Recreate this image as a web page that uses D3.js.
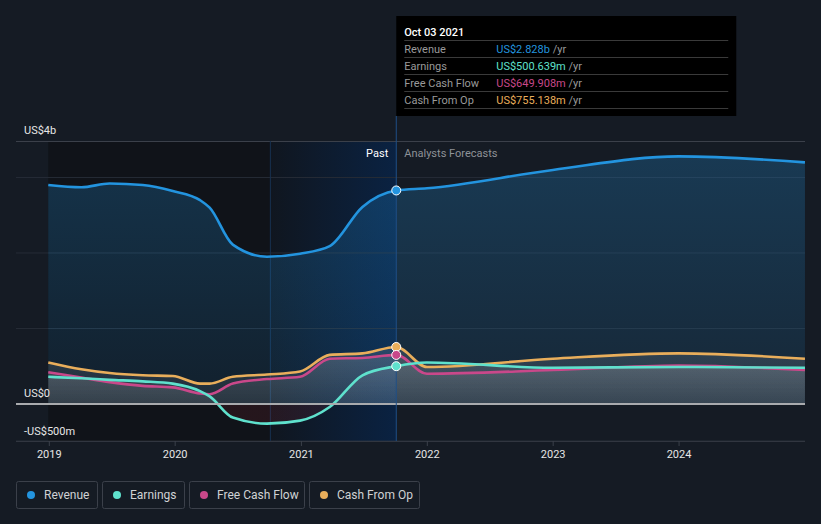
<!DOCTYPE html>
<html>
<head>
<meta charset="utf-8">
<script src="https://cdn.jsdelivr.net/npm/d3@7"></script>
<style>
  html, body { margin: 0; padding: 0; background: #151b24; }
  svg { display: block; font-family: Roboto, "Noto Sans", sans-serif; }
</style>
</head>
<body>
<svg id="chart" width="821" height="524"></svg>
<script>
// ---- data (values in US$ billions) ----
const dates = ["2018-12-29","2019-04-04","2019-06-25","2019-09-29","2019-12-25","2020-03-13","2020-04-10","2020-06-16","2020-09-23","2020-12-28","2021-03-24","2021-06-27","2021-10-03","2021-12-31","2022-12-31","2023-12-31","2024-12-31"];
const revenue  = [2.90, 2.87, 2.92, 2.90, 2.82, 2.70, 2.60, 2.11, 1.95, 1.99, 2.09, 2.61, 2.828, 2.857, 3.10, 3.28, 3.20];
const earnings = [0.36, 0.34, 0.32, 0.30, 0.27, 0.17, 0.10, -0.18, -0.26, -0.22, -0.04, 0.38, 0.5006, 0.55, 0.48, 0.49, 0.48];
const fcf      = [0.42, 0.35, 0.29, 0.24, 0.22, 0.14, 0.13, 0.27, 0.33, 0.36, 0.60, 0.61, 0.6499, 0.40, 0.45, 0.51, 0.45];
const cfo      = [0.55, 0.46, 0.41, 0.38, 0.37, 0.27, 0.27, 0.36, 0.39, 0.43, 0.65, 0.67, 0.7551, 0.49, 0.60, 0.67, 0.60];
const seriesNames = ["Revenue", "Earnings", "Free Cash Flow", "Cash From Op"];
const seriesColors = ["#2394df", "#5fe1cd", "#c9488a", "#e9ae5b"];
const xTickYears = [2019, 2020, 2021, 2022, 2023, 2024];
const yTickValues = [-0.5, 0, 1, 2, 3];
const yLabels = [{v: 3.483, t: "US$4b"}, {v: 0, t: "US$0"}, {v: -0.5, t: "-US$500m"}];
const tooltipDate = "Oct 03 2021";
const tooltipValues = ["US$2.828b", "US$500.639m", "US$649.908m", "US$755.138m"];
const pastLabel = "Past", forecastLabel = "Analysts Forecasts";
const nowDate = "2021-10-03", highlightStart = "2020-10-03";

// ---- setup ----
const parse = d3.timeParse("%Y-%m-%d");
const D = dates.map(parse);
const svg = d3.select("#chart");
const pL = 16, pR = 805, pT = 141, pB = 441;

const x = d3.scaleTime().domain([new Date(2019,0,1), new Date(2025,0,1)]).range([49.3, 805.3]);
const y = d3.scaleLinear().domain([-0.5, 3.483]).range([441.75, 141]);

const defs = svg.append("defs");
defs.append("clipPath").attr("id","plotclip").append("rect")
  .attr("x", pL).attr("y", pT).attr("width", pR-pL).attr("height", pB-pT);

// background regions
const xNow = x(parse(nowDate)), xHs = x(parse(highlightStart)), xStart = x(D[0]);
svg.append("rect").attr("x", xStart).attr("y", pT).attr("width", xHs - xStart).attr("height", pB-pT)
  .attr("fill", "#0f1217").attr("opacity", 0.85);
const hg = defs.append("linearGradient").attr("id","hl").attr("x1",0).attr("x2",1).attr("y1",0).attr("y2",0);
hg.append("stop").attr("offset","0%").attr("stop-color","#10161f");
hg.append("stop").attr("offset","100%").attr("stop-color","#0a2242");
svg.append("rect").attr("x", xHs).attr("y", pT).attr("width", xNow - xHs).attr("height", pB-pT)
  .attr("fill", "url(#hl)");

// gridlines
svg.append("g").selectAll("line").data(yTickValues.filter(v => v !== 0 && v !== -0.5)).join("line")
  .attr("x1", pL).attr("x2", pR).attr("y1", d => y(d)).attr("y2", d => y(d))
  .attr("stroke", "#262c36").attr("stroke-width", 1);
svg.append("line").attr("x1", pL).attr("x2", pR).attr("y1", pT+0.5).attr("y2", pT+0.5)
  .attr("stroke", "#3b404a").attr("stroke-width", 1);
svg.append("line").attr("x1", pL).attr("x2", pR).attr("y1", y(-0.5)-0.5).attr("y2", y(-0.5)-0.5)
  .attr("stroke", "#3b404a").attr("stroke-width", 1);

// vertical line at highlight start
svg.append("line").attr("x1", xHs).attr("x2", xHs).attr("y1", pT).attr("y2", pB)
  .attr("stroke", "#17304f").attr("stroke-width", 1);

// ---- areas ----
const plot = svg.append("g").attr("clip-path","url(#plotclip)");
function mkData(vals) { return D.map((d,i) => ({d, v: vals[i]})); }
const area = d3.area().curve(d3.curveMonotoneX).x(p => x(p.d)).y0(y(0)).y1(p => y(p.v));
const line = d3.line().curve(d3.curveMonotoneX).x(p => x(p.d)).y(p => y(p.v));

const rg = defs.append("linearGradient").attr("id","revg").attr("gradientUnits","userSpaceOnUse")
  .attr("x1",0).attr("x2",0).attr("y1", pT).attr("y2", y(0));
rg.append("stop").attr("offset","0%").attr("stop-color","#2394df").attr("stop-opacity",0.26);
rg.append("stop").attr("offset","100%").attr("stop-color","#2394df").attr("stop-opacity",0.10);
plot.append("path").datum(mkData(revenue)).attr("d", area).attr("fill","url(#revg)");

const gg = defs.append("linearGradient").attr("id","greyg").attr("gradientUnits","userSpaceOnUse")
  .attr("x1",0).attr("x2",0).attr("y1", y(0.8)).attr("y2", y(-0.3));
gg.append("stop").attr("offset","0%").attr("stop-color","#ffffff").attr("stop-opacity",0.12);
gg.append("stop").attr("offset","72%").attr("stop-color","#ffffff").attr("stop-opacity",0.05);
gg.append("stop").attr("offset","73%").attr("stop-color","#e0303a").attr("stop-opacity",0.10);
gg.append("stop").attr("offset","100%").attr("stop-color","#e0303a").attr("stop-opacity",0.10);
[cfo, fcf, earnings].forEach(vals => {
  plot.append("path").datum(mkData(vals)).attr("d", area).attr("fill","url(#greyg)");
});

// zero line
svg.append("line").attr("x1", pL).attr("x2", pR).attr("y1", y(0)).attr("y2", y(0))
  .attr("stroke", "#a9abae").attr("stroke-width", 2);

// now line
svg.append("line").attr("x1", xNow).attr("x2", xNow).attr("y1", 116).attr("y2", pB)
  .attr("stroke", "#1f4f86").attr("stroke-width", 1);

// ---- lines ----
const allSeries = [revenue, earnings, fcf, cfo];
[3,2,1,0].forEach(i => {
  plot.append("path").datum(mkData(allSeries[i])).attr("d", line)
    .attr("fill","none").attr("stroke", seriesColors[i]).attr("stroke-width", 2.6);
});

// markers at now
const nowIdx = dates.indexOf(nowDate);
[0,3,2,1].forEach(i => {
  svg.append("circle").attr("cx", x(D[nowIdx])).attr("cy", y(allSeries[i][nowIdx])).attr("r", 4.5)
    .attr("fill", seriesColors[i]).attr("stroke", "#ffffff").attr("stroke-width", 1);
});

// ---- axes ----
const xAxisG = svg.append("g").attr("transform", `translate(0,${pB})`);
const xTicks = xTickYears.map(yr => new Date(yr,0,1));
xAxisG.selectAll("line").data(xTicks).join("line")
  .attr("x1", d => x(d)).attr("x2", d => x(d)).attr("y1", 0).attr("y2", 5)
  .attr("stroke", "#3b404a");
xAxisG.selectAll("text").data(xTicks).join("text")
  .attr("x", d => x(d)).attr("y", 17).attr("text-anchor","middle")
  .attr("fill","#e6e6e6").attr("font-size", 11).text(d => d3.timeFormat("%Y")(d));

svg.append("g").selectAll("text").data(yLabels).join("text")
  .attr("x", 24).attr("y", d => y(d.v) - 7).attr("fill", "#e6e6e6").attr("font-size", 11)
  .text(d => d.t);

// Past / forecast labels
svg.append("text").attr("x", xNow - 8).attr("y", 157).attr("text-anchor","end")
  .attr("fill","#ffffff").attr("font-size", 11).text(pastLabel);
svg.append("text").attr("x", xNow + 8).attr("y", 157)
  .attr("fill","#8e9297").attr("font-size", 11).text(forecastLabel);

// ---- tooltip ----
const tt = svg.append("g").attr("transform", `translate(${xNow},16)`);
tt.append("rect").attr("x",0).attr("y",0).attr("width", 340).attr("height", 100).attr("fill","#000000");
tt.append("text").attr("x", 8).attr("y", 19.5).attr("fill","#ffffff").attr("font-size", 11)
  .attr("font-weight", 500).text(tooltipDate);
seriesNames.forEach((nm, i) => {
  const ry = 24 + i*17;
  tt.append("line").attr("x1", 8).attr("x2", 332).attr("y1", ry+0.5).attr("y2", ry+0.5).attr("stroke","#3a3a3a");
  tt.append("text").attr("x", 8).attr("y", ry + 12.5).attr("fill","#9a9a9a").attr("font-size", 11).text(nm);
  const t = tt.append("text").attr("x", 100).attr("y", ry + 12.5).attr("font-size", 11);
  t.append("tspan").attr("fill", seriesColors[i]).text(tooltipValues[i]);
  t.append("tspan").attr("fill", "#9a9a9a").text(" /yr");
});
tt.append("line").attr("x1", 8).attr("x2", 332).attr("y1", 24+4*17+0.5).attr("y2", 24+4*17+0.5).attr("stroke","#3a3a3a");

// ---- legend ----
const legendBoxes = [{x:16, w:81}, {x:102, w:82}, {x:189, w:115}, {x:309, w:110}];
const lg = svg.append("g");
seriesNames.forEach((nm, i) => {
  const b = legendBoxes[i];
  lg.append("rect").attr("x", b.x+0.5).attr("y", 481.5).attr("width", b.w).attr("height", 27).attr("rx", 2)
    .attr("fill","none").attr("stroke","#3b404a");
  lg.append("circle").attr("cx", b.x + 15).attr("cy", 495).attr("r", 4).attr("fill", seriesColors[i]);
  lg.append("text").attr("x", b.x + 28).attr("y", 499).attr("fill","#d0d2d4").attr("font-size", 12).text(nm);
});
</script>
</body>
</html>
